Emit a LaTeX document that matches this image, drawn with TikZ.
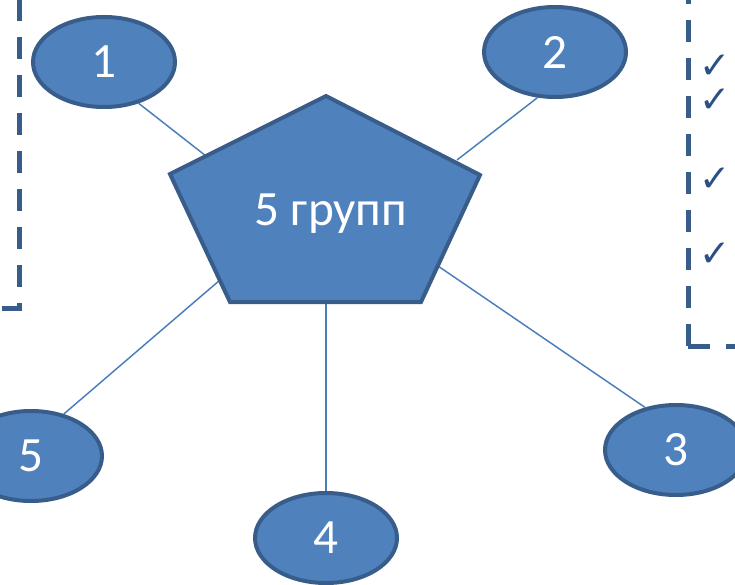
\documentclass[tikz,border=0pt]{standalone}
\usepackage{fontspec}
\setmainfont{Carlito}
\newfontfamily\checkfont{DejaVu Sans}
\usetikzlibrary{shapes.geometric}
\definecolor{groupblue}{RGB}{79, 129, 189}
\definecolor{edgeblue}{RGB}{56, 93, 138}
\definecolor{linkblue}{RGB}{74, 126, 187}
\definecolor{checkblue}{RGB}{44, 80, 132}

\begin{document}
\begin{tikzpicture}[
    x=0.75pt, y=-0.75pt,
    groupnode/.style={
        ellipse, draw=edgeblue, line width=3pt, fill=groupblue,
        minimum width=106.5pt, minimum height=67.5pt, inner sep=0pt,
        font=\fontsize{37}{40}\selectfont, text=white
    },
    hubshape/.style={draw=edgeblue, line width=3pt, fill=groupblue, line join=miter},
    hubtext/.style={font=\fontsize{37}{40}\selectfont, text=white, inner sep=0pt},
    link/.style={linkblue, line width=1.1pt},
    dashbox/.style={edgeblue, line width=3.75pt, dash pattern=on 16.5pt off 12pt},
    checkmark/.style={font=\checkfont\bfseries\fontsize{28}{30}\selectfont, text=checkblue,
        inner sep=0pt, text height=16pt, text depth=0pt}
]
\useasboundingbox (0,0) rectangle (735,585);
\clip (0,0) rectangle (735,585);

% Side frames (cut by the page edge)
\draw[dashbox] (2,308) -- (19,308) -- (19,-20);
\draw[dashbox] (688,346) -- (760,346);
\draw[dashbox] (688,346) -- (688,-20);

% Check marks in the right frame
\node[checkmark] (ck1) at (715,68) {✓};
\node[checkmark] (ck2) at (715,102) {✓};
\node[checkmark] (ck3) at (715,181) {✓};
\node[checkmark] (ck4) at (715,256) {✓};

% Groups round the centre
\node[groupnode] (g1) at (104,62) {1};
\node[groupnode] (g2) at (555,52) {2};
\node[groupnode] (g3) at (676,450) {3};
\node[groupnode] (g4) at (326,538) {4};
\node[groupnode] (g5) at (31,456) {5};

% Points on the pentagon where the lines meet it
\coordinate (c1) at (206,156);
\coordinate (c2) at (457,160);
\coordinate (c3) at (438,266);
\coordinate (c4) at (326,300);
\coordinate (c5) at (220,280);

% Lines from the groups to the pentagon
\draw[link] (g1.-50) -- (c1);
\draw[link] (g2.249) -- (c2);
\draw[link] (g3.126) -- (c3);
\draw[link] (g4.north) -- (c4);
\draw[link] (g5.52) -- (c5);

% CENTRE - pentagon
\draw[hubshape] (326,96) -- (480,175) -- (421,302) -- (230,302) -- (170,174) -- cycle;
\node[hubtext] (hub) at (331,214) {5 групп};

\end{tikzpicture}
\end{document}
